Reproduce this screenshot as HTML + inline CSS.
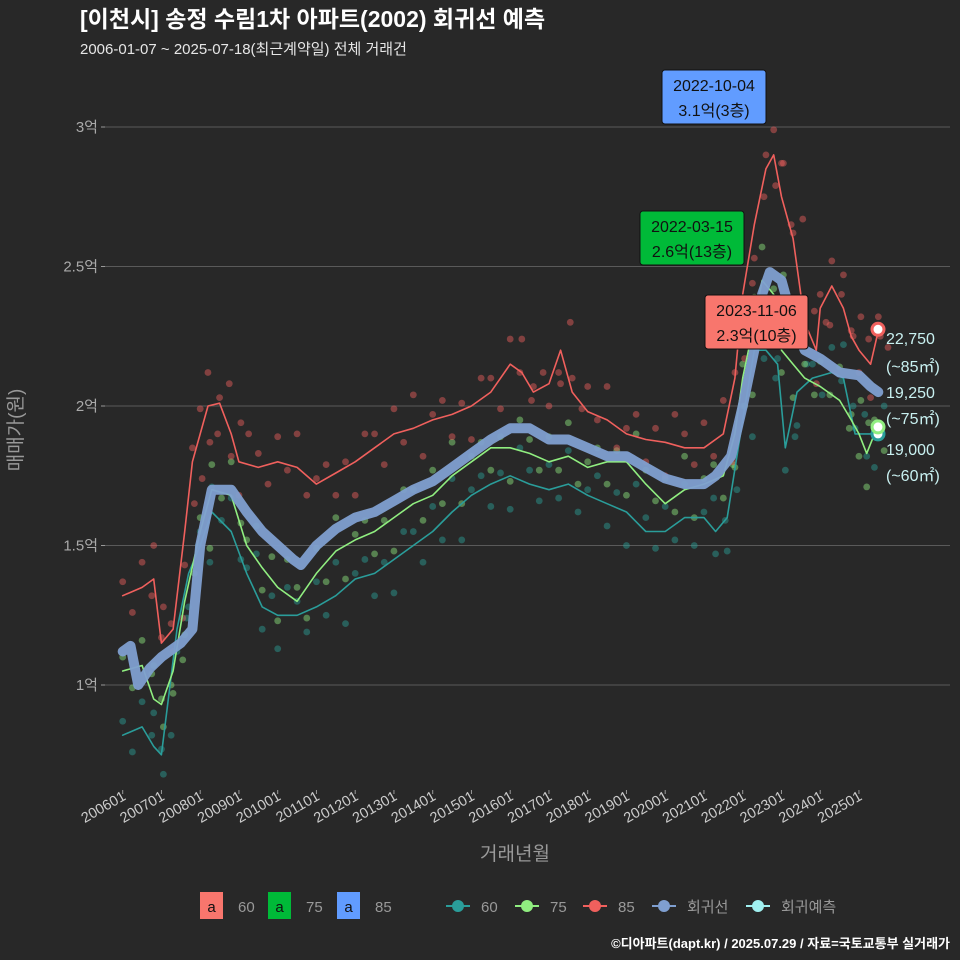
<!DOCTYPE html>
<html><head><meta charset="utf-8"><style>
html,body{margin:0;background:#282828;overflow:hidden;}
svg{display:block;}
svg text{font-family:"Liberation Sans","Noto Sans CJK KR",sans-serif;}
</style></head><body>
<svg id="c" width="960" height="960" xmlns="http://www.w3.org/2000/svg">
<rect width="960" height="960" fill="#282828"/>
<text x="80" y="27" fill="#fff" font-size="23" font-weight="bold">[이천시] 송정 수림1차 아파트(2002) 회귀선 예측</text>
<text x="80" y="54" fill="#e6e6e6" font-size="15">2006-01-07 ~ 2025-07-18(최근계약일) 전체 거래건</text>
<g id="grid"></g><g id="pts"></g><g id="lines"></g><g id="ann"></g>
<text x="515" y="860" fill="#999" font-size="19" text-anchor="middle">거래년월</text>
<text transform="translate(22,430) rotate(-90)" fill="#999" font-size="19" text-anchor="middle">매매가(원)</text>
<g id="legend"></g>
<text x="950" y="948" fill="#fff" font-size="13" font-weight="bold" text-anchor="end">©디아파트(dapt.kr) / 2025.07.29 / 자료=국토교통부 실거래가</text>
</svg>
<script>
const yTicks=[1,1.5,2,2.5,3];
const yTickLabels=["1억","1.5억","2억","2.5억","3억"];
const xTicks=[2006,2007,2008,2009,2010,2011,2012,2013,2014,2015,2016,2017,2018,2019,2020,2021,2022,2023,2024,2025];
const regT=[2006,2006.2,2006.4,2006.7,2007,2007.5,2007.8,2008,2008.3,2008.8,2009.2,2009.6,2010,2010.4,2010.6,2011,2011.5,2012,2012.5,2013,2013.5,2014,2014.5,2015,2015.5,2016,2016.5,2017,2017.5,2018,2018.5,2019,2019.5,2020,2020.5,2021,2021.3,2021.7,2022,2022.3,2022.5,2022.7,2023,2023.3,2023.6,2024,2024.5,2025,2025.3,2025.5];
const regV=[1.12,1.14,1.0,1.06,1.1,1.15,1.2,1.5,1.7,1.7,1.62,1.55,1.5,1.45,1.43,1.5,1.56,1.6,1.62,1.66,1.7,1.73,1.78,1.83,1.88,1.92,1.92,1.88,1.88,1.85,1.82,1.82,1.78,1.74,1.72,1.72,1.75,1.82,2.0,2.2,2.4,2.48,2.45,2.3,2.2,2.17,2.12,2.11,2.07,2.05];
const s85T=[2006,2006.5,2006.8,2007,2007.3,2007.6,2007.8,2008,2008.2,2008.5,2008.8,2009,2009.5,2010,2010.5,2011,2011.5,2012,2012.5,2013,2013.5,2014,2014.5,2015,2015.5,2016,2016.3,2016.6,2017,2017.3,2017.6,2018,2018.5,2019,2019.5,2020,2020.5,2021,2021.5,2021.8,2022,2022.3,2022.6,2022.8,2023,2023.3,2023.6,2023.9,2024,2024.3,2024.6,2024.8,2025,2025.3,2025.5];
const s85V=[1.32,1.35,1.38,1.15,1.2,1.55,1.8,1.9,2.0,2.01,1.9,1.8,1.78,1.8,1.78,1.72,1.76,1.8,1.85,1.9,1.92,1.95,1.97,2.0,2.05,2.15,2.12,2.05,2.08,2.2,2.05,1.98,1.95,1.9,1.88,1.87,1.85,1.85,1.9,2.1,2.4,2.65,2.85,2.9,2.75,2.6,2.3,2.2,2.35,2.43,2.35,2.25,2.2,2.15,2.27];
const s75T=[2006,2006.5,2006.8,2007,2007.3,2007.6,2008,2008.3,2008.8,2009.2,2009.6,2010,2010.5,2011,2011.5,2012,2012.5,2013,2013.5,2014,2014.5,2015,2015.5,2016,2016.5,2017,2017.5,2018,2018.5,2019,2019.5,2020,2020.5,2021,2021.5,2021.8,2022,2022.3,2022.5,2022.8,2023,2023.3,2023.6,2024,2024.5,2024.8,2025,2025.2,2025.4];
const s75V=[1.05,1.07,0.95,0.93,1.05,1.3,1.55,1.7,1.68,1.5,1.42,1.35,1.3,1.4,1.48,1.52,1.55,1.6,1.65,1.68,1.75,1.8,1.85,1.85,1.83,1.8,1.82,1.78,1.8,1.8,1.72,1.65,1.7,1.72,1.75,1.9,2.1,2.3,2.45,2.4,2.2,2.15,2.1,2.07,2.02,1.95,1.9,1.83,1.9];
const s60T=[2006,2006.5,2006.8,2007,2007.4,2007.7,2008,2008.3,2008.8,2009.2,2009.6,2010,2010.5,2011,2011.5,2012,2012.5,2013,2013.5,2014,2014.5,2015,2015.5,2016,2016.5,2017,2017.5,2018,2018.5,2019,2019.5,2020,2020.5,2021,2021.3,2021.6,2022,2022.3,2022.6,2022.9,2023.1,2023.4,2023.8,2024.3,2024.6,2024.9,2025.2,2025.4];
const s60V=[0.82,0.85,0.78,0.75,1.2,1.4,1.5,1.62,1.55,1.4,1.28,1.25,1.25,1.28,1.32,1.38,1.4,1.45,1.5,1.55,1.62,1.68,1.72,1.75,1.72,1.7,1.72,1.68,1.65,1.62,1.55,1.55,1.6,1.6,1.55,1.6,1.95,2.2,2.2,2.15,1.85,2.05,2.1,2.12,2.1,1.9,1.9,1.9];
const ptOff=[0.05,-0.06,0.09,-0.03,0.12,-0.1,0.02,0.07,-0.08,0.04,-0.12,0.1];
const X=t=>122.7+(t-2006)*38.75, Y=v=>685-(v-1)*279;
const NS="http://www.w3.org/2000/svg";
function mk(p,tag,a){const e=document.createElementNS(NS,tag);for(const k in a)e.setAttribute(k,a[k]);document.getElementById(p).appendChild(e);return e;}
yTicks.forEach((v,i)=>{
 const l=mk('grid','line',{x1:105,x2:950,y1:Y(v),y2:Y(v),stroke:'#5a5a5a','stroke-width':1});
 
 
 const tk=mk('grid','line',{x1:101,x2:105,y1:Y(v),y2:Y(v),stroke:'#999'});
 
 
 const t=mk('grid','text',{x:98,y:Y(v)+5,fill:'#aaa','font-size':15,'text-anchor':'end'});t.textContent=yTickLabels[i];
 
 
});
xTicks.forEach(yr=>{
 const x=X(yr);
 const tk=mk('grid','line',{x1:x,x2:x,y1:790,y2:794,stroke:'#999'});
 
 
 const t=mk('grid','text',{transform:`translate(${x+4},799) rotate(-30)`,fill:'#ccc','font-size':14.5,'text-anchor':'end'});t.textContent=yr+"01";
 
 
});
function scatter(T,V,col,name){T.forEach((t,i)=>{for(let k=0;k<2;k++){const o=ptOff[(i*2+k)%ptOff.length];
 const c=mk('pts','circle',{cx:X(t+k*0.25),cy:Y(V[i]+o),r:3.4,fill:col,'fill-opacity':0.45});
 
 }});}
scatter(s60T,s60V,'#2aa198','point-60');scatter(s75T,s75V,'#90ee80','point-75');scatter(s85T,s85V,'#f0605d','point-85');
function line(T,V,col,w,name,op){const d=T.map((t,i)=>(i?'L':'M')+X(t).toFixed(1)+','+Y(V[i]).toFixed(1)).join('');
 const p=mk('lines','path',{d:d,fill:'none',stroke:col,'stroke-width':w,'stroke-linejoin':'round','stroke-linecap':'round','stroke-opacity':op});
 
 }
line(s60T,s60V,'#2a9d9a',1.6,'line-60',1);line(s75T,s75V,'#90ee80',1.6,'line-75',1);line(s85T,s85V,'#f0605d',1.6,'line-85',1);
line(regT,regV,'#7f9fd0',10,'regression-line',0.95);
function endpt(v,col,name){const c=mk('lines','circle',{cx:878,cy:Y(v),r:6,fill:'#fff',stroke:col,'stroke-width':3});
 
 }
endpt(1.9,'#2a9d9a','end-60');endpt(1.925,'#90ee80','end-75');endpt(2.275,'#f0605d','end-85');
const rl=[["22,750",344],["(~85㎡)",372],["19,250",398],["(~75㎡)",424],["19,000",455],["(~60㎡)",481]];
rl.forEach(r=>{const t=mk('ann','text',{x:886,y:r[1],fill:'#c8f0f0','font-size':16});t.textContent=r[0];
 
 });
function box(x,y,w,col,l1,l2,name){const g=mk('ann','g',{});
 const r=document.createElementNS(NS,'rect');[['x',x],['y',y],['width',w],['height',54],['rx',3],['fill',col],['stroke','#111']].forEach(a=>r.setAttribute(a[0],a[1]));g.appendChild(r);
 [[l1,y+21],[l2,y+46]].forEach(a=>{const t=document.createElementNS(NS,'text');t.setAttribute('x',x+w/2);t.setAttribute('y',a[1]);t.setAttribute('text-anchor','middle');t.setAttribute('font-size',16);t.setAttribute('fill','#111');t.textContent=a[0];g.appendChild(t);});}
box(662,70,104,'#619cff','2022-10-04','3.1억(3층)','annotation-85');
box(640,211,104,'#00ba38','2022-03-15','2.6억(13층)','annotation-75');
box(705,295,103,'#f8766d','2023-11-06','2.3억(10층)','annotation-60');
const lg=[[200,'#f8766d','60'],[268,'#00ba38','75'],[337,'#619cff','85']];
lg.forEach(l=>{const r=mk('legend','rect',{x:l[0],y:892,width:23,height:27,fill:l[1]});
 const a=mk('legend','text',{x:l[0]+11.5,y:912,'font-size':15,'text-anchor':'middle',fill:'#111'});a.textContent='a';
 const t=mk('legend','text',{x:l[0]+38,y:912,'font-size':15,fill:'#999'});t.textContent=l[2];});
const lg2=[[458,'#2a9d9a','60'],[527,'#90ee80','75'],[595,'#f0605d','85'],[664,'#7f9fd0','회귀선'],[758,'#a0f0f0','회귀예측']];
lg2.forEach(l=>{const g=mk('legend','line',{x1:l[0]-12,x2:l[0]+12,y1:906,y2:906,stroke:l[1],'stroke-width':2});
 mk('legend','circle',{cx:l[0],cy:906,r:6,fill:l[1]});
 const t=mk('legend','text',{x:l[0]+23,y:912,'font-size':15,fill:'#999'});t.textContent=l[2];});
</script>
</body></html>
